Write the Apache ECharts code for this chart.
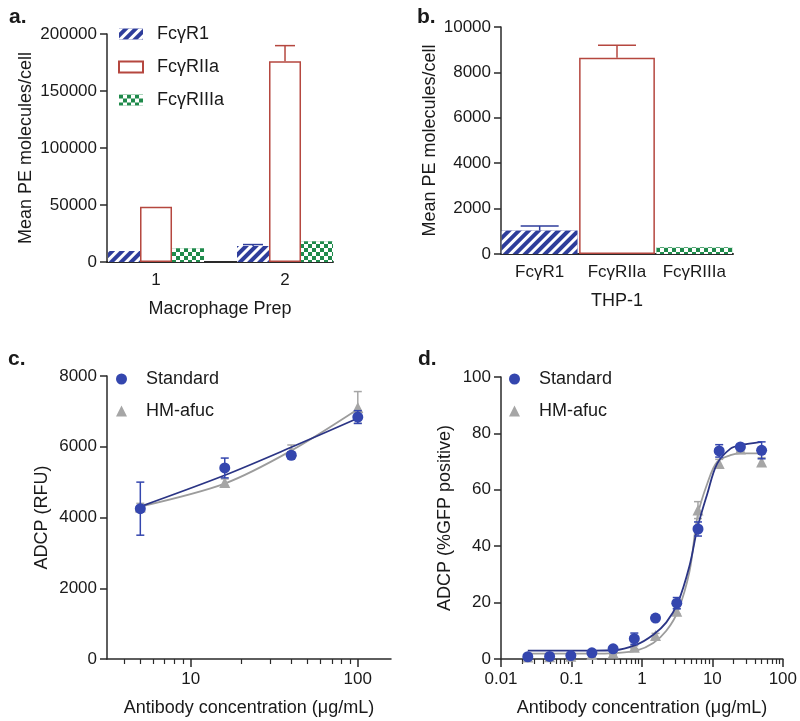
<!DOCTYPE html>
<html><head><meta charset="utf-8">
<script src="https://cdn.jsdelivr.net/npm/echarts@6/dist/echarts.min.js"></script>
<style>html,body{margin:0;padding:0;background:#fff}#chart{width:800px;height:721px}</style>
</head><body><div id="chart"></div>
<script>
// ---------- Panel a: Macrophage Prep ----------
const prepCategories = [1, 2];
const prepR1 = [9700, 14000];
const prepR1ErrTop = [null, 15300];
const prepR2a = [48400, 176000];
const prepR2aErrTop = [null, 189800];
const prepR3a = [12000, 18200];
const prepR3aErrTop = [null, null];
const receptorNames = ['FcγR1', 'FcγRIIa', 'FcγRIIIa'];
// ---------- Panel b: THP-1 ----------
const thpCategories = ['FcγR1', 'FcγRIIa', 'FcγRIIIa'];
const thpValues = [1030, 8650, 300];
const thpErrTop = [1230, 9200, null];
// ---------- Panel c ----------
const concC = [5, 16, 40, 100];
const stdC = [4250, 5400, 5760, 6840];
const stdCErr = [750, 280, 90, 180];
const hmC = [4300, 4990, 5880, 7110];
const hmCErr = [100, 100, 170, 450];
const fitConcC = [5, 16, 40, 100];
const stdFitC = [4310, 5195, 5985, 6805];
const hmFitC = [4310, 4960, 5890, 7060];
const cMajorTicks = [10, 100];
const cMinorTicks = [4, 5, 6, 7, 8, 9, 20, 30, 40, 50, 60, 70, 80, 90];
// ---------- Panel d ----------
const concD = [0.024, 0.049, 0.098, 0.195, 0.39, 0.78, 1.56, 3.125, 6.25, 12.5, 25, 50];
const stdD = [0.8, 0.9, 1.2, 2.2, 3.6, 7.2, 14.5, 19.8, 46.1, 73.8, 75.2, 74.0];
const stdDErr = [0, 0, 0, 0, 0.8, 2, 0.8, 2, 2.5, 2.2, 0.8, 3];
const hmD = [0.7, 0.8, 1.0, 1.6, 2.1, 4.2, 8.3, 16.9, 52.8, 69.3, 74.5, 69.9];
const hmDErr = [0, 0, 0, 0, 0.5, 0.5, 0.8, 1, 3, 1.5, 0.8, 1.5];
const fitConcD = [0.024, 0.2, 0.4, 0.84, 1.45, 2.22, 3.24, 4.73, 6.2, 8.5, 11.7, 18.1, 25, 50];
const stdFitD = [3.0, 3.0, 3.1, 5.1, 8.6, 13, 20, 33, 46.9, 58.7, 69.3, 74.6, 75.8, 77];
const hmFitD = [1.9, 1.9, 2.1, 3.0, 5.7, 10, 17, 31, 51, 62.3, 69.9, 72.3, 72.9, 72.9];
const dMajorTicks = [0.01, 0.1, 1, 10, 100];
const dMinorTicks = [0.02,0.03,0.04,0.05,0.06,0.07,0.08,0.09,0.2,0.3,0.4,0.5,0.6,0.7,0.8,0.9,2,3,4,5,6,7,8,9,20,30,40,50,60,70,80,90];

// ---------- styles ----------
const FONT = '"Liberation Sans", Arial, Helvetica, sans-serif';
const TXT = '#1a1a1a';
const AX = '#2a2a2a';
const BLUE = '#2e3d9b';
const RED = '#b5473f';
const GREEN = '#1f8a4b';
const MBLUE = '#3446ae';
const LBLUE = '#2b3585';
const GRAY = '#a6a6a6';
const LGRAY = '#9c9c9c';
const stripeDecal = { symbol: 'rect', symbolSize: 1, color: '#ffffff', dashArrayX: [1, 0], dashArrayY: [3, 3.6], rotation: -Math.PI / 4 };
const checkDecal = { symbol: 'rect', symbolSize: 1, color: '#ffffff', dashArrayX: [[4, 4], [0, 4, 4, 0]], dashArrayY: [4, 0] };
const styleR1 = { color: BLUE, decal: stripeDecal };
const styleR2a = { color: '#ffffff', borderColor: RED, borderWidth: 1.5 };
const styleR3a = { color: GREEN, decal: checkDecal };
const barStyles = [styleR1, styleR2a, styleR3a];
const barColors = [BLUE, RED, GREEN];

function yAxisBase(grid, name, gap, max, interval) {
  return {
    type: 'value', gridIndex: grid, min: 0, max: max, interval: interval,
    name: name, nameLocation: 'middle', nameGap: gap,
    nameTextStyle: { fontFamily: FONT, fontSize: 18, color: TXT },
    axisLine: { show: true, lineStyle: { color: AX, width: 1.5 } },
    axisTick: { show: true, length: 7, lineStyle: { color: AX, width: 1.5 } },
    axisLabel: { fontFamily: FONT, fontSize: 17, color: TXT, margin: 10, formatter: v => String(v) },
    splitLine: { show: false }
  };
}
function logAxis(grid, min, max, major, minor) {
  return [{
    type: 'log', gridIndex: grid, min: min, max: max, position: 'bottom',
    name: 'Antibody concentration (μg/mL)', nameLocation: 'middle', nameGap: 40,
    nameTextStyle: { fontFamily: FONT, fontSize: 18, color: TXT },
    axisLine: { show: true, onZero: false, lineStyle: { color: AX, width: 1.5 } },
    axisTick: { show: true, length: 8, customValues: major, lineStyle: { color: AX, width: 1.5 } },
    axisLabel: { fontFamily: FONT, fontSize: 17, color: TXT, margin: 12, customValues: major, formatter: v => String(v) },
    splitLine: { show: false }, minorTick: { show: false }
  }, {
    type: 'log', gridIndex: grid, min: min, max: max, position: 'bottom',
    axisLine: { show: false },
    axisTick: { show: true, length: 5, customValues: minor, lineStyle: { color: AX, width: 1.2 } },
    axisLabel: { show: false }, splitLine: { show: false }
  }];
}
// error bars for bar charts (upper only)
function barErrRender(offsetPx, capHalf) {
  return function (params, api) {
    const x = api.value(0), y = api.value(1), t = api.value(2);
    const p0 = api.coord([x, y]); const p1 = api.coord([x, t]);
    const cx = p0[0] + offsetPx;
    const color = api.visual('color');
    const ls = { stroke: color, lineWidth: 1.5 };
    return { type: 'group', children: [
      { type: 'line', shape: { x1: cx, y1: p0[1], x2: cx, y2: p1[1] }, style: ls },
      { type: 'line', shape: { x1: cx - capHalf, y1: p1[1], x2: cx + capHalf, y2: p1[1] }, style: ls }
    ]};
  };
}
function sdErrRender(capHalf) {
  return function (params, api) {
    const x = api.value(0), y = api.value(1), e = api.value(2);
    if (!e) return null;
    const pt = api.coord([x, y + e]); const pb = api.coord([x, y - e]);
    const color = api.visual('color');
    const ls = { stroke: color, lineWidth: 1.5 };
    return { type: 'group', children: [
      { type: 'line', shape: { x1: pt[0], y1: pt[1], x2: pb[0], y2: pb[1] }, style: ls },
      { type: 'line', shape: { x1: pt[0] - capHalf, y1: pt[1], x2: pt[0] + capHalf, y2: pt[1] }, style: ls },
      { type: 'line', shape: { x1: pb[0] - capHalf, y1: pb[1], x2: pb[0] + capHalf, y2: pb[1] }, style: ls }
    ]};
  };
}
const zipXY = (xs, ys) => xs.map((x, i) => [x, ys[i]]);
const zipErr = (xs, ys, es) => xs.map((x, i) => [x, ys[i], es[i]]).filter(d => d[2]);

const BARW_A = 32;
const prepSeriesVals = [prepR1, prepR2a, prepR3a];
const prepSeriesErr = [prepR1ErrTop, prepR2aErrTop, prepR3aErrTop];

const series = [];
// Panel a bars
receptorNames.forEach((nm, k) => {
  series.push({
    type: 'bar', name: nm, xAxisIndex: 0, yAxisIndex: 0,
    barWidth: BARW_A, barGap: '0%',
    itemStyle: barStyles[k],
    data: prepCategories.map((c, i) => [c, prepSeriesVals[k][i]])
  });
});
receptorNames.forEach((nm, k) => {
  const d = prepCategories.map((c, i) => [c, prepSeriesVals[k][i], prepSeriesErr[k][i]]).filter(r => r[2] != null);
  if (d.length) series.push({
    type: 'custom', name: nm + ' err', xAxisIndex: 0, yAxisIndex: 0, z: 3,
    itemStyle: { color: barColors[k] }, renderItem: barErrRender((k - 1) * BARW_A, 10), data: d
  });
});
// Panel b bars
series.push({
  type: 'bar', name: 'THP-1', xAxisIndex: 1, yAxisIndex: 1, barCategoryGap: '2%',
  data: thpValues.map((v, i) => ({ value: v, itemStyle: barStyles[i] }))
});
series.push({
  type: 'custom', name: 'THP-1 err', xAxisIndex: 1, yAxisIndex: 1, z: 3,
  renderItem: barErrRender(0, 19),
  data: thpCategories.map((c, i) => ({ value: [i, thpValues[i], thpErrTop[i]], itemStyle: { color: barColors[i] } })).filter(r => r.value[2] != null)
});
// Panels c & d
function doseSeries(xi, yi, conc, std, stdE, hm, hmE, fc, sf, hf, smooth) {
  series.push({ type: 'line', name: 'HM-afuc fit', xAxisIndex: xi, yAxisIndex: yi, showSymbol: false, smooth: smooth,
    lineStyle: { color: LGRAY, width: 1.8 }, itemStyle: { color: LGRAY }, data: zipXY(fc, hf), z: 2 });
  series.push({ type: 'custom', name: 'HM-afuc err', xAxisIndex: xi, yAxisIndex: yi, itemStyle: { color: GRAY },
    renderItem: sdErrRender(4), data: zipErr(conc, hm, hmE), z: 3 });
  series.push({ type: 'scatter', name: 'HM-afuc', xAxisIndex: xi, yAxisIndex: yi, symbol: 'triangle', symbolSize: 11,
    itemStyle: { color: GRAY, opacity: 1 }, data: zipXY(conc, hm), z: 4 });
  series.push({ type: 'line', name: 'Standard fit', xAxisIndex: xi, yAxisIndex: yi, showSymbol: false, smooth: smooth,
    lineStyle: { color: LBLUE, width: 1.8 }, itemStyle: { color: LBLUE }, data: zipXY(fc, sf), z: 5 });
  series.push({ type: 'custom', name: 'Standard err', xAxisIndex: xi, yAxisIndex: yi, itemStyle: { color: MBLUE },
    renderItem: sdErrRender(4), data: zipErr(conc, std, stdE), z: 6 });
  series.push({ type: 'scatter', name: 'Standard', xAxisIndex: xi, yAxisIndex: yi, symbol: 'circle', symbolSize: 11,
    itemStyle: { color: MBLUE, opacity: 1 }, data: zipXY(conc, std), z: 7 });
}
doseSeries(2, 2, concC, stdC, stdCErr, hmC, hmCErr, fitConcC, stdFitC, hmFitC, 0.3);
doseSeries(4, 3, concD, stdD, stdDErr, hmD, hmDErr, fitConcD, stdFitD, hmFitD, 0.35);

const panelTitle = (t, l, tp) => ({ text: t, left: l, top: tp, textStyle: { fontFamily: FONT, fontSize: 21, fontWeight: 'bold', color: TXT } });
const legendText = { fontFamily: FONT, fontSize: 18, color: TXT, padding: [0, 0, 0, 9] };
const doseLegendData = [{ name: 'Standard', icon: 'circle' }, { name: 'HM-afuc', icon: 'triangle' }];

const option = {
  backgroundColor: '#ffffff',
  animation: false,
  title: [panelTitle('a.', 4, 2), panelTitle('b.', 412, 2), panelTitle('c.', 3, 344), panelTitle('d.', 413, 344)],
  grid: [
    { left: 107, top: 34, right: 467, bottom: 459 },
    { left: 501, top: 27, right: 67, bottom: 467 },
    { left: 107, top: 376, right: 409, bottom: 62 },
    { left: 501, top: 377, right: 14, bottom: 62 }
  ],
  legend: [
    { orient: 'vertical', left: 118, top: 25, padding: 0, itemWidth: 24, itemHeight: 11, itemGap: 15, icon: 'rect',
      data: receptorNames, textStyle: legendText, selectedMode: false },
    { orient: 'vertical', left: 116, top: 370, padding: 0, itemWidth: 11, itemHeight: 11, itemGap: 14,
      data: doseLegendData, textStyle: Object.assign({}, legendText, { padding: [0, 0, 0, 14] }), selectedMode: false },
    { orient: 'vertical', left: 509, top: 370, padding: 0, itemWidth: 11, itemHeight: 11, itemGap: 14,
      data: doseLegendData, textStyle: Object.assign({}, legendText, { padding: [0, 0, 0, 14] }), selectedMode: false }
  ],
  xAxis: [
    { type: 'value', gridIndex: 0, min: 0.62, max: 2.372,
      name: 'Macrophage Prep', nameLocation: 'middle', nameGap: 38,
      nameTextStyle: { fontFamily: FONT, fontSize: 18, color: TXT },
      axisLine: { show: true, onZero: false, lineStyle: { color: AX, width: 2 } },
      axisTick: { show: false },
      axisLabel: { fontFamily: FONT, fontSize: 17, color: TXT, margin: 10, customValues: prepCategories, formatter: v => String(v) },
      splitLine: { show: false } },
    { type: 'category', gridIndex: 1, data: thpCategories,
      name: 'THP-1', nameLocation: 'middle', nameGap: 38,
      nameTextStyle: { fontFamily: FONT, fontSize: 18, color: TXT },
      axisLine: { show: true, lineStyle: { color: AX, width: 2 } },
      axisTick: { show: false },
      axisLabel: { fontFamily: FONT, fontSize: 17, color: TXT, margin: 10, interval: 0 } },
    ...logAxis(2, 3.16, 158, cMajorTicks, cMinorTicks),
    ...logAxis(3, 0.01, 100, dMajorTicks, dMinorTicks)
  ],
  yAxis: [
    yAxisBase(0, 'Mean PE molecules/cell', 72, 200000, 50000),
    yAxisBase(1, 'Mean PE molecules/cell', 62, 10000, 2000),
    yAxisBase(2, 'ADCP (RFU)', 56, 8000, 2000),
    yAxisBase(3, 'ADCP (%GFP positive)', 47, 100, 20)
  ],
  series: series
};
const chart = echarts.init(document.getElementById('chart'), null, { renderer: 'canvas' });
chart.setOption(option);
</script></body></html>
